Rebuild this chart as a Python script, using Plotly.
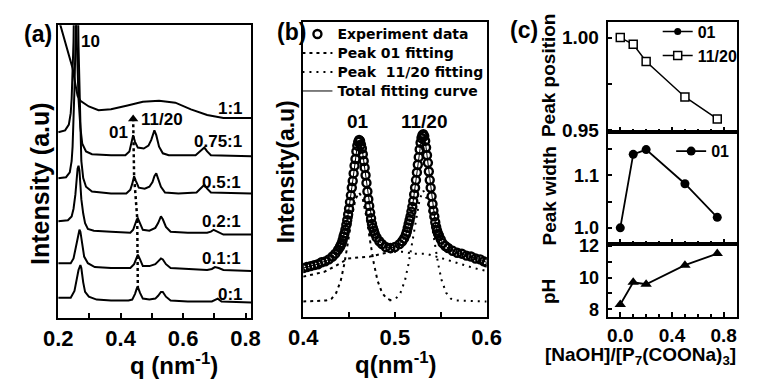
import plotly.graph_objects as go

# ---------------- DATA ----------------
# Panel (a): SAXS profiles, q in nm^-1, intensity in a.u. (stacked)
q_0 = [0.200,0.240,0.252,0.258,0.265,0.271,0.274,0.280,0.286,0.298,0.323,0.369,0.425,0.437,0.446,0.452,0.455,0.462,0.471,0.492,0.511,0.520,0.529,0.535,0.545,0.560,0.615,0.692,0.702,0.711,0.723,0.818]
I_0 = [21,21,28,38,50,55,52,37,27,22,19,18,18,19,25,31,32,26,20,19,20,23,27,27,22,18,17,17,19,20,17,16]

q_01 = [0.200,0.240,0.249,0.255,0.262,0.268,0.271,0.277,0.283,0.295,0.317,0.369,0.431,0.443,0.449,0.455,0.462,0.471,0.492,0.511,0.520,0.529,0.535,0.545,0.560,0.615,0.677,0.692,0.702,0.714,0.729,0.818]
I_01 = [57,57,62,72,84,92,90,74,64,57,53,52,52,56,62,66,61,54,54,56,59,62,61,56,52,51,50,51,53,52,50,49]

q_02 = [0.200,0.231,0.243,0.249,0.255,0.258,0.262,0.265,0.268,0.271,0.274,0.280,0.286,0.295,0.314,0.369,0.431,0.440,0.446,0.452,0.455,0.462,0.471,0.492,0.511,0.520,0.526,0.529,0.535,0.545,0.560,0.615,0.677,0.689,0.698,0.711,0.729,0.818]
I_02 = [101,102,106,114,129,144,156,159,154,139,124,109,99,93,91,90,89,92,98,103,104,99,92,91,94,99,105,106,103,95,90,89,89,90,92,90,87,87]

q_05 = [0.200,0.225,0.237,0.243,0.246,0.249,0.252,0.255,0.258,0.262,0.265,0.268,0.271,0.274,0.280,0.289,0.308,0.369,0.418,0.431,0.437,0.443,0.449,0.458,0.477,0.492,0.502,0.508,0.514,0.520,0.529,0.542,0.585,0.643,0.655,0.668,0.677,0.689,0.818]
I_05 = [146,147,152,164,179,204,239,284,364,364,284,234,194,164,146,137,132,130,130,134,140,148,143,136,135,137,142,148,151,146,137,131,130,131,135,139,135,131,130]

q_075 = [0.200,0.222,0.234,0.240,0.243,0.246,0.249,0.252,0.255,0.258,0.262,0.265,0.271,0.277,0.289,0.308,0.369,0.415,0.428,0.434,0.440,0.446,0.455,0.474,0.489,0.498,0.505,0.508,0.514,0.523,0.535,0.554,0.640,0.655,0.668,0.677,0.689,0.818]
I_075 = [194,196,202,214,229,254,289,364,364,304,264,229,199,182,174,171,170,170,174,182,191,184,178,177,180,186,193,196,191,179,172,170,170,174,178,174,170,169]

q_1 = [0.200,0.215,0.231,0.246,0.255,0.262,0.271,0.283,0.298,0.329,0.369,0.422,0.471,0.523,0.575,0.625,0.677,0.729,0.818]
I_1 = [314,296,279,261,244,232,227,224,221,217,218,222,226,227,225,218,212,209,209]

# guide through the 01 peaks (dashed, with arrow head)
q_guide = [0.455,0.455,0.453,0.443,0.440,0.440]
I_guide = [30,66,104,148,191,208]

# Panel (b): experiment data and fits
q_exp = [0.400,0.404,0.408,0.412,0.416,0.420,0.424,0.428,0.432,0.435,0.438,
         0.440,0.441,0.442,0.443,0.444,0.445,0.446,0.447,0.448,0.449,0.450,0.451,0.452,0.453,0.454,0.455,0.456,0.457,0.458,0.459,
         0.460,0.461,0.462,0.463,0.464,0.465,0.466,0.467,0.468,0.469,0.470,0.471,0.472,0.473,0.474,0.475,0.476,0.477,0.478,
         0.480,0.483,0.486,0.490,0.495,0.500,0.505,0.508,0.510,0.512,0.513,0.514,0.515,0.516,0.517,0.518,0.519,
         0.520,0.521,0.522,0.523,0.524,0.525,0.526,0.527,0.528,0.529,0.530,0.531,0.532,0.533,0.534,0.535,0.536,0.537,0.538,0.539,
         0.540,0.541,0.542,0.543,0.544,0.545,0.546,0.547,0.548,0.550,0.552,0.555,0.558,0.563,0.568,0.573,0.578,0.583,0.588,0.593,0.597,0.600]
I_exp = [51,52,53,54,55,57,58,60,63,66,70,
         73,75,77,80,84,87,91,96,101,107,113,120,127,135,142,150,158,165,173,179,
         183,185,184,180,176,170,163,156,148,140,131,123,116,109,103,97,93,90,87,
         83,79,76,73,72,73,76,79,82,86,89,93,97,101,105,110,115,
         121,128,135,143,151,159,167,175,182,187,190,191,189,184,177,169,161,152,143,135,
         126,118,111,105,99,94,90,87,85,81,77,74,72,69,67,66,64,63,61,60,58,57]

q_fit01 = [0.400,0.425,0.431,0.436,0.441,0.445,0.449,0.453,0.457,0.461,0.465,0.469,0.473,0.477,0.481,0.486,0.491,0.497]
I_fit01 = [16,17,19,25,38,56,79,104,123,130,123,104,79,56,38,25,19,17]
q_fit01_broad = [0.400,0.410,0.423,0.435,0.449,0.460,0.473,0.486,0.499]
I_fit01_broad = [42,44,47,53,61,62,63,66,68]

q_fit1120 = [0.494,0.501,0.506,0.511,0.515,0.519,0.523,0.527,0.531,0.535,0.539,0.543,0.547,0.551,0.556,0.561,0.567,0.600]
I_fit1120 = [17,19,25,38,56,79,104,123,132,123,104,79,56,38,25,19,17,16]
q_fit1120_broad = [0.499,0.508,0.520,0.534,0.552,0.570,0.586,0.600]
I_fit1120_broad = [68,68,66,66,61,56,51,48]

# Panel (c)
ratio = [0.0, 0.1, 0.2, 0.5, 0.75]
pos_1120 = [1.000, 0.9964, 0.9871, 0.9680, 0.9562]
width_01 = [1.000, 1.140, 1.149, 1.084, 1.020]
pH = [8.30, 9.70, 9.58, 10.79, 11.52]

# ---------------- HELPERS ----------------
W, H = 763, 386
def PX(x): return x / W
def PY(y): return 1 - y / H

FONT = "Liberation Sans, Arial, sans-serif"
WIDE = "DejaVu Sans, Liberation Sans, sans-serif"
BLK = "black"

def big(t, s=14):
    return '<span style="font-size:%dpx">%s</span>' % (s, t)

fig = go.Figure()

# ---- panel (a)
for q, I in [(q_0, I_0), (q_01, I_01), (q_02, I_02), (q_05, I_05), (q_075, I_075), (q_1, I_1)]:
    fig.add_trace(go.Scatter(x=q, y=I, mode="lines", line=dict(color=BLK, width=2),
                             xaxis="x", yaxis="y", showlegend=False, hoverinfo="skip"))
fig.add_trace(go.Scatter(x=q_guide, y=I_guide, mode="lines",
                         line=dict(color=BLK, width=2.5, dash="3px,3px"),
                         xaxis="x", yaxis="y", showlegend=False))
fig.add_trace(go.Scatter(x=q_guide[-1:], y=I_guide[-1:], mode="markers",
                         marker=dict(symbol="triangle-up", size=9, color=BLK),
                         xaxis="x", yaxis="y", showlegend=False))

# ---- panel (b)
fig.add_trace(go.Scatter(x=q_exp, y=I_exp, mode="markers", name=big("Experiment data"),
                         marker=dict(symbol="circle-open", size=8, color=BLK, line=dict(width=2.4)),
                         xaxis="x2", yaxis="y2", legend="legend"))
fig.add_trace(go.Scatter(x=q_fit01, y=I_fit01, mode="lines", name=big("Peak 01 fitting"),
                         line=dict(color=BLK, width=2, dash="3px,4px"), legendgroup="f01",
                         xaxis="x2", yaxis="y2", legend="legend"))
fig.add_trace(go.Scatter(x=q_fit1120, y=I_fit1120, mode="lines", name=big("Peak&nbsp; 11/20 fitting"),
                         line=dict(color=BLK, width=2, dash="2px,5px"), legendgroup="f1120",
                         xaxis="x2", yaxis="y2", legend="legend"))
fig.add_trace(go.Scatter(x=q_exp, y=I_exp, mode="lines", name=big("Total fitting curve"),
                         line=dict(color=BLK, width=1),
                         xaxis="x2", yaxis="y2", legend="legend"))
fig.add_trace(go.Scatter(x=q_fit01_broad, y=I_fit01_broad, mode="lines", showlegend=False,
                         line=dict(color=BLK, width=2, dash="3px,4px"), legendgroup="f01",
                         xaxis="x2", yaxis="y2"))
fig.add_trace(go.Scatter(x=q_fit1120_broad, y=I_fit1120_broad, mode="lines", showlegend=False,
                         line=dict(color=BLK, width=2, dash="2px,5px"), legendgroup="f1120",
                         xaxis="x2", yaxis="y2"))

# ---- panel (c)
fig.add_trace(go.Scatter(x=[None], y=[None], mode="lines+markers", name="01",
                         line=dict(color=BLK, width=1.5), marker=dict(symbol="circle", size=7, color=BLK),
                         xaxis="x3", yaxis="y3", legend="legend2"))
fig.add_trace(go.Scatter(x=ratio, y=pos_1120, mode="lines+markers", name="11/20",
                         line=dict(color=BLK, width=1.5),
                         marker=dict(symbol="square", size=8, color="white", line=dict(color=BLK, width=1.5)),
                         xaxis="x3", yaxis="y3", legend="legend2"))
fig.add_trace(go.Scatter(x=ratio, y=width_01, mode="lines+markers", name="01",
                         line=dict(color=BLK, width=1.8), marker=dict(symbol="circle", size=9, color=BLK),
                         xaxis="x4", yaxis="y4", legend="legend3"))
fig.add_trace(go.Scatter(x=ratio, y=pH, mode="lines+markers", name="pH", showlegend=False,
                         line=dict(color=BLK, width=1.8), marker=dict(symbol="triangle-up", size=10, color=BLK),
                         xaxis="x5", yaxis="y5"))

# ---------------- AXES ----------------
line_kw = dict(showline=True, linecolor=BLK, linewidth=2, mirror=True, showgrid=False, zeroline=False)
tick_in = dict(ticks="inside", tickcolor=BLK, tickwidth=1.5)
def minor_y(vals):
    return dict(tickvals=vals, ticks="inside", ticklen=4, tickcolor=BLK, tickwidth=1.5)

fig.update_layout(
    # (a)
    xaxis=dict(domain=[PX(45), PX(246)], range=[0.2, 0.8185], anchor="y", tick0=0, dtick=0.2,
               ticklen=5, tickfont=dict(size=22), minor=dict(dtick=0.1, ticks="inside", ticklen=5, tickcolor=BLK),
               **tick_in, **line_kw),
    yaxis=dict(domain=[PY(324), PY(18)], range=[0, 306], anchor="x", showticklabels=False, ticks="", **line_kw),
    # (b)
    xaxis2=dict(domain=[PX(300), PX(491)], range=[0.4, 0.6001], anchor="y2", tick0=0, dtick=0.1,
                ticklen=5, tickfont=dict(size=22), minor=dict(dtick=0.05, ticks="inside", ticklen=5, tickcolor=BLK),
                **tick_in, **line_kw),
    yaxis2=dict(domain=[PY(323), PY(15)], range=[0, 308], anchor="x2", showticklabels=False, ticks="", **line_kw),
    # (c)
    xaxis3=dict(domain=[PX(617), PX(752)], range=[-0.097, 0.906], anchor="y3", tick0=0, dtick=0.4,
                showticklabels=False, ticklen=5, minor=dict(dtick=0.1, ticks="inside", ticklen=3, tickcolor=BLK),
                **tick_in, **line_kw),
    yaxis3=dict(domain=[PY(130), PY(15)], range=[0.949, 1.0082], anchor="x3",
                tickvals=[0.95, 1.0], ticktext=["0.95", "1.00"], ticklen=4, minor=minor_y([0.975]),
                tickfont=dict(size=19), ticklabelstandoff=3, **tick_in, **line_kw),
    xaxis4=dict(domain=[PX(617), PX(752)], range=[-0.097, 0.906], anchor="y4", tick0=0, dtick=0.4,
                showticklabels=False, ticklen=5, minor=dict(dtick=0.1, ticks="inside", ticklen=3, tickcolor=BLK),
                **tick_in, **line_kw),
    yaxis4=dict(domain=[PY(247), PY(130)], range=[0.969, 1.182], anchor="x4",
                tickvals=[1.0, 1.1], ticktext=["1.0", "1.1"], ticklen=4, minor=minor_y([1.05, 1.15]),
                tickfont=dict(size=18), ticklabelstandoff=3, **tick_in, **line_kw),
    xaxis5=dict(domain=[PX(617), PX(752)], range=[-0.097, 0.906], anchor="y5", tick0=0, dtick=0.4,
                tickformat=".1f", tickfont=dict(size=19), ticklen=5,
                minor=dict(dtick=0.1, ticks="inside", ticklen=3, tickcolor=BLK),
                **tick_in, **line_kw),
    yaxis5=dict(domain=[PY(323), PY(247)], range=[7.52, 12.12], anchor="x5",
                tickvals=[8, 10, 12], ticktext=["8", "10", "12"], ticklen=4, minor=minor_y([9, 11]),
                tickfont=dict(size=18), ticklabelstandoff=3, **tick_in, **line_kw),
)

# ---------------- LEGENDS ----------------
fig.update_layout(
    showlegend=True,
    legend=dict(x=PX(294), y=PY(12), xanchor="left", yanchor="top", bgcolor="rgba(0,0,0,0)",
                font=dict(size=12, family=WIDE), itemwidth=30, tracegroupgap=0, traceorder="normal"),
    legend2=dict(x=PX(669), y=PY(7), xanchor="left", yanchor="top", bgcolor="rgba(0,0,0,0)",
                 font=dict(size=16), itemwidth=30, tracegroupgap=0),
    legend3=dict(x=PX(683), y=PY(132), xanchor="left", yanchor="top", bgcolor="rgba(0,0,0,0)",
                 font=dict(size=16), itemwidth=30, tracegroupgap=0),
)

# ---------------- ANNOTATIONS ----------------
ann = []
def A(x, y, text, size, angle=0):
    ann.append(dict(x=PX(x), y=PY(y), xref="paper", yref="paper", text=text, showarrow=False,
                    xanchor="center", yanchor="middle", textangle=angle, font=dict(size=size)))

# panel labels
A(24, 27, "(a)", 23); A(288, 25, "(b)", 23); A(530, 23, "(c)", 23)
# axis titles
A(26, 183, "Intensity (a.u)", 25, -90)
A(165, 372, "q (nm<sup>-1</sup>)", 24)
A(283, 171, "Intensity(a.u)", 23, -90)
A(397, 371, "q(nm<sup>-1</sup>)", 24)
A(556, 70, "Peak position", 19, -90)
A(556, 197, "Peak width", 19, -90)
A(556, 297, "pH", 19, -90)
A(651, 364, "[NaOH]/[P<sub>7</sub>(COONa)<sub>3</sub>]", 19)
# panel (a) labels
A(79, 35, "10", 17)
A(108, 130, "01", 17)
A(153, 117, "11/20", 17)
A(224, 105, "1:1", 17)
A(211, 140, "0.75:1", 17)
A(215, 183, "0.5:1", 17)
A(215, 223, "0.2:1", 17)
A(215, 262, "0.1:1", 17)
A(224, 300, "0:1", 17)
# panel (b) peak labels
A(357, 119, "01", 19)
A(426, 119, "11/20", 19)

fig.update_layout(
    annotations=ann,
    width=W, height=H, margin=dict(l=0, r=0, t=0, b=0),
    paper_bgcolor="white", plot_bgcolor="white",
    font=dict(family=FONT, color=BLK, weight="bold"),
)

fig.write_html("out.html", config={"displayModeBar": False},
               post_script="document.body.style.margin='0';document.body.style.overflow='hidden';")
